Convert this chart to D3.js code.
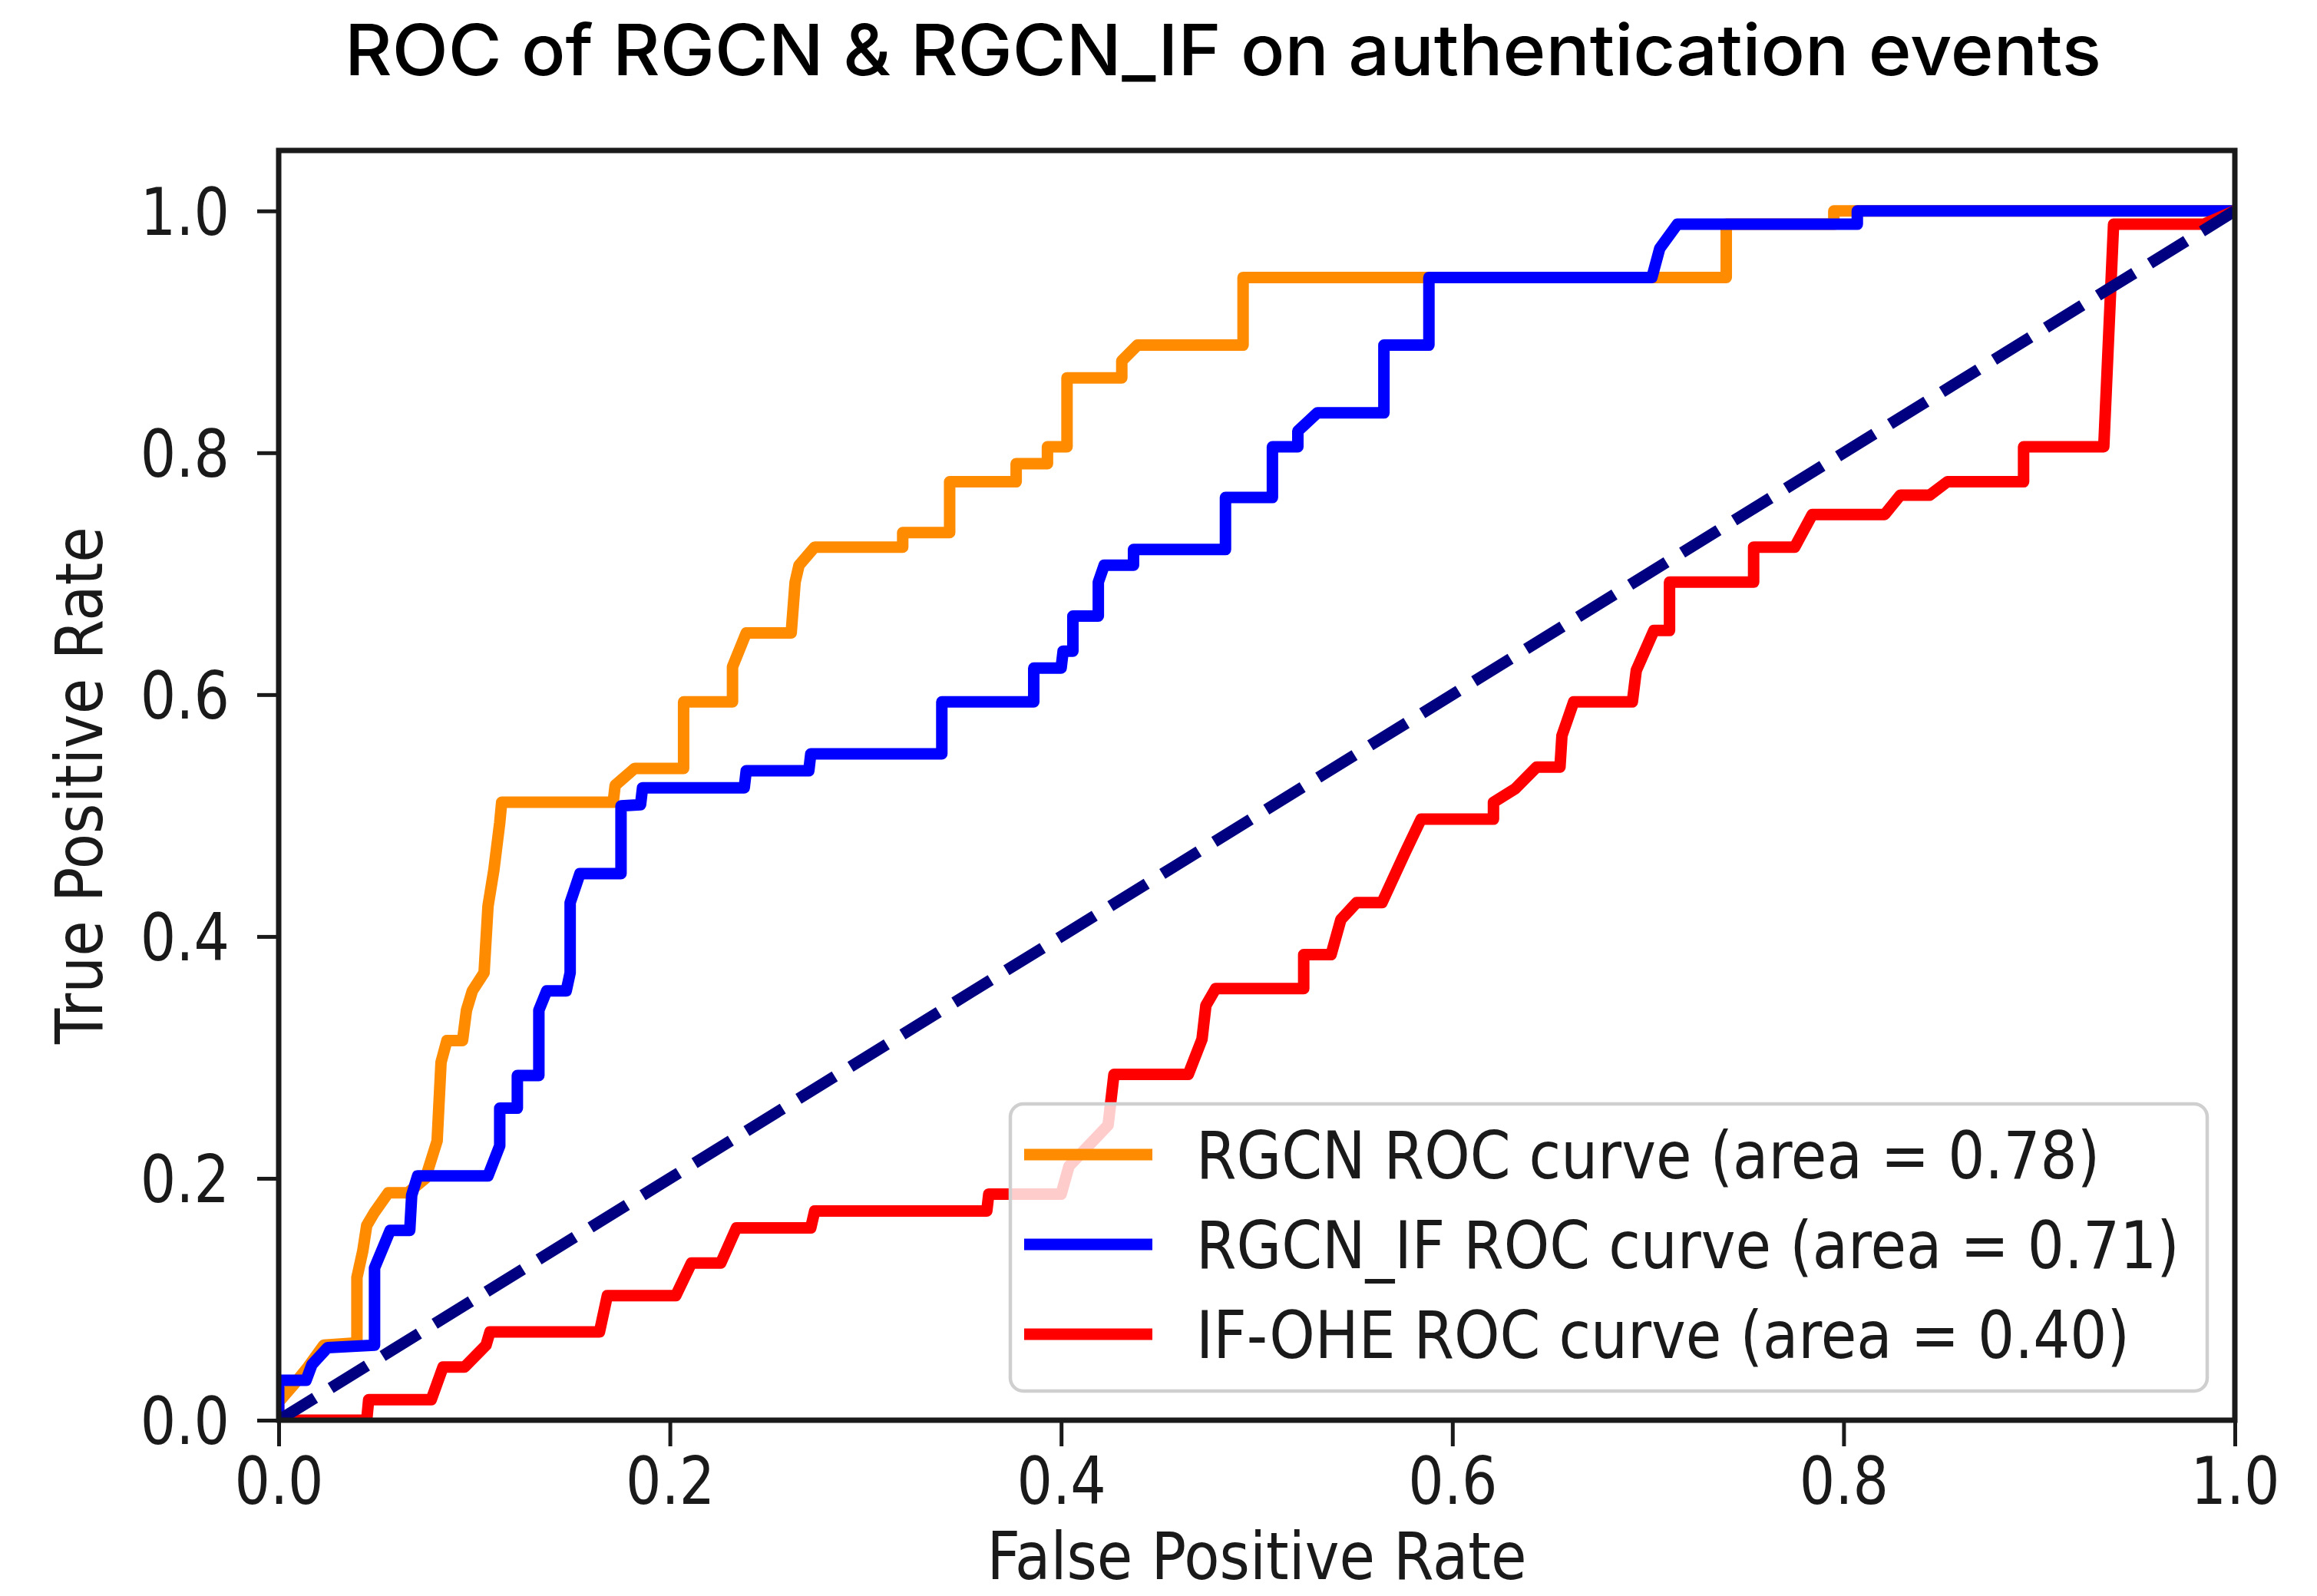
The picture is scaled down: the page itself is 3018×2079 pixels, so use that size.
<!DOCTYPE html>
<html>
<head>
<meta charset="utf-8">
<script src="https://cdn.jsdelivr.net/npm/d3@7"></script>
<style>
  html, body { margin: 0; padding: 0; background: #fff; }
  svg { display: block; }
</style>
</head>
<body>
<div id="chart"></div>
<script>
;(function() {
  'use strict';

  // ROC points (fpr, tpr)
  var rgcnFpr = [0, 0, 0.008, 0.015, 0.023, 0.040, 0.040, 0.043, 0.045, 0.049, 0.056, 0.066, 0.075, 0.081, 0.083,
                 0.086, 0.094, 0.096, 0.099, 0.105, 0.107, 0.110, 0.113, 0.114, 0.171, 0.172, 0.182, 0.207, 0.207,
                 0.232, 0.232, 0.239, 0.262, 0.264, 0.266, 0.274, 0.319, 0.319, 0.343, 0.343, 0.377, 0.377, 0.393,
                 0.393, 0.403, 0.403, 0.431, 0.431, 0.439, 0.493, 0.493, 0.740, 0.740, 0.795, 0.795, 1.0],
      rgcnTpr = [0, 0.015, 0.030, 0.044, 0.062, 0.064, 0.118, 0.140, 0.161, 0.172, 0.188, 0.188, 0.200, 0.231, 0.296,
                 0.314, 0.314, 0.339, 0.355, 0.370, 0.425, 0.455, 0.494, 0.511, 0.511, 0.525, 0.539, 0.539, 0.594,
                 0.594, 0.623, 0.651, 0.651, 0.693, 0.707, 0.722, 0.722, 0.734, 0.734, 0.776, 0.776, 0.791, 0.791,
                 0.805, 0.805, 0.862, 0.862, 0.876, 0.889, 0.889, 0.945, 0.945, 0.989, 0.989, 1.0, 1.0];

  var rgcnIfFpr = [0, 0, 0.014, 0.017, 0.025, 0.049, 0.049, 0.057, 0.067, 0.068, 0.071, 0.107, 0.113, 0.113, 0.122,
                   0.122, 0.133, 0.133, 0.137, 0.147, 0.149, 0.149, 0.154, 0.175, 0.175, 0.185, 0.186, 0.238, 0.239,
                   0.271, 0.272, 0.339, 0.339, 0.386, 0.386, 0.400, 0.401, 0.406, 0.406, 0.419, 0.419, 0.422, 0.437,
                   0.437, 0.484, 0.484, 0.508, 0.508, 0.521, 0.521, 0.531, 0.565, 0.565, 0.588, 0.588, 0.702, 0.706,
                   0.715, 0.807, 0.807, 1.0],
      rgcnIfTpr = [0, 0.033, 0.033, 0.046, 0.060, 0.062, 0.126, 0.157, 0.157, 0.186, 0.202, 0.202, 0.227, 0.258, 0.258,
                   0.285, 0.285, 0.339, 0.355, 0.355, 0.370, 0.428, 0.452, 0.452, 0.508, 0.509, 0.523, 0.523, 0.537,
                   0.537, 0.551, 0.551, 0.594, 0.594, 0.622, 0.622, 0.636, 0.636, 0.665, 0.665, 0.693, 0.707, 0.707,
                   0.720, 0.720, 0.763, 0.763, 0.805, 0.805, 0.818, 0.833, 0.833, 0.889, 0.889, 0.945, 0.945, 0.969,
                   0.989, 0.989, 1.0, 1.0];

  var ifOheFpr = [0, 0.045, 0.046, 0.078, 0.084, 0.095, 0.106, 0.108, 0.164, 0.168, 0.203, 0.211, 0.226, 0.234, 0.272,
                  0.274, 0.362, 0.363, 0.400, 0.404, 0.424, 0.427, 0.465, 0.472, 0.474, 0.479, 0.524, 0.524, 0.538,
                  0.543, 0.551, 0.564, 0.576, 0.584, 0.621, 0.621, 0.632, 0.643, 0.655, 0.656, 0.662, 0.692, 0.694,
                  0.703, 0.711, 0.711, 0.754, 0.754, 0.775, 0.784, 0.821, 0.829, 0.844, 0.853, 0.892, 0.892, 0.933,
                  0.938, 0.984, 1.0],
      ifOheTpr = [0, 0, 0.017, 0.017, 0.044, 0.044, 0.062, 0.073, 0.073, 0.103, 0.103, 0.130, 0.130, 0.159, 0.159,
                  0.173, 0.173, 0.187, 0.187, 0.210, 0.244, 0.286, 0.286, 0.315, 0.343, 0.357, 0.357, 0.385, 0.385,
                  0.414, 0.428, 0.428, 0.470, 0.497, 0.497, 0.511, 0.522, 0.540, 0.540, 0.566, 0.594, 0.594, 0.620,
                  0.653, 0.653, 0.693, 0.693, 0.722, 0.722, 0.749, 0.749, 0.765, 0.765, 0.776, 0.776, 0.805, 0.805,
                  0.989, 0.989, 1.0];

  var chanceFpr = [0, 1],
      chanceTpr = [0, 1];

  var seriesNames = ['RGCN', 'RGCN_IF', 'IF-OHE'],
      seriesAuc = [0.78, 0.71, 0.40],
      seriesColors = ['#ff8c00', '#0000ff', '#ff0000'],
      xTicks = [0, 0.2, 0.4, 0.6, 0.8, 1.0],
      yTicks = [0, 0.2, 0.4, 0.6, 0.8, 1.0],
      titleText = 'ROC of RGCN & RGCN_IF on authentication events';

  var width = 3018,
      height = 2079,
      plot = {left: 363, right: 2911, top: 196, bottom: 1850},
      fontSize = 85,
      squeeze = 0.86,      // tick labels
      labelSqueeze = 0.89, // axis labels + legend
      lineW = 15,
      ink = '#1a1a1a';

  var x = d3.scaleLinear().domain([0, 1]).range([plot.left, plot.right]),
      y = d3.scaleLinear().domain([0, 1.05]).range([plot.bottom, plot.top]);

  var line = d3.line()
    .x(function(d) { return x(d[0]); })
    .y(function(d) { return y(d[1]); });

  var curves = [
    d3.zip(rgcnFpr, rgcnTpr),
    d3.zip(rgcnIfFpr, rgcnIfTpr),
    d3.zip(ifOheFpr, ifOheTpr)
  ];

  var svg = d3.select('#chart')
    .append('svg')
    .attr('width', width)
    .attr('height', height)
    .style('font-family', "'DejaVu Sans', sans-serif");

  svg.append('rect')
    .attr('width', width)
    .attr('height', height)
    .attr('fill', '#fff');

  svg.append('defs')
    .append('clipPath')
    .attr('id', 'plot-clip')
    .append('rect')
    .attr('x', plot.left)
    .attr('y', plot.top)
    .attr('width', plot.right - plot.left)
    .attr('height', plot.bottom - plot.top);

  // Curves
  var lineG = svg.append('g').attr('clip-path', 'url(#plot-clip)');
  lineG.selectAll('path.roc')
    .data(curves)
    .enter()
    .append('path')
    .classed('roc', true)
    .attr('d', line)
    .attr('fill', 'none')
    .attr('stroke', function(d, i) { return seriesColors[i]; })
    .attr('stroke-width', lineW)
    .attr('stroke-linejoin', 'round')
    .attr('stroke-linecap', 'square');

  lineG.append('path')
    .datum(d3.zip(chanceFpr, chanceTpr))
    .attr('d', line)
    .attr('fill', 'none')
    .attr('stroke', '#000080')
    .attr('stroke-width', lineW)
    .attr('stroke-dasharray', '55.6,24');

  // Axes
  var xAxis = d3.axisBottom(x)
    .tickValues(xTicks)
    .tickFormat(d3.format('.1f'))
    .tickSize(34)
    .tickPadding(15);
  var xg = svg.append('g')
    .attr('transform', 'translate(0,' + plot.bottom + ')')
    .call(xAxis);

  var yAxis = d3.axisLeft(y)
    .tickValues(yTicks)
    .tickFormat(d3.format('.1f'))
    .tickSize(28);
  var yg = svg.append('g')
    .attr('transform', 'translate(' + plot.left + ',0)')
    .call(yAxis);

  [xg, yg].forEach(function(g) {
    g.attr('font-size', fontSize).attr('font-family', null);
    g.select('.domain').remove();
    g.selectAll('.tick line').attr('stroke', ink).attr('stroke-width', 5);
    g.selectAll('.tick text')
      .attr('fill', ink)
      .attr('transform', 'scale(' + squeeze + ',1)');
  });
  yg.selectAll('.tick text')
    .attr('x', -64 / squeeze)
    .attr('dy', '0.36em');

  // Frame
  svg.append('rect')
    .attr('x', plot.left)
    .attr('y', plot.top)
    .attr('width', plot.right - plot.left)
    .attr('height', plot.bottom - plot.top)
    .attr('fill', 'none')
    .attr('stroke', ink)
    .attr('stroke-width', 7);

  // Axis labels
  svg.append('text')
    .attr('transform', 'translate(' + ((plot.left + plot.right) / 2) + ',2057) scale(' + labelSqueeze + ',1)')
    .attr('text-anchor', 'middle')
    .attr('font-size', fontSize)
    .attr('fill', ink)
    .text('False Positive Rate');

  svg.append('text')
    .attr('transform', 'translate(133,' + ((plot.top + plot.bottom) / 2) + ') rotate(-90) scale(' + labelSqueeze + ',1)')
    .attr('text-anchor', 'middle')
    .attr('font-size', fontSize)
    .attr('fill', ink)
    .text('True Positive Rate');

  // Legend
  var legend = svg.append('g')
    .attr('transform', 'translate(1316,1438)');
  legend.append('rect')
    .attr('width', 1559)
    .attr('height', 374)
    .attr('rx', 17)
    .attr('fill', '#fff')
    .attr('fill-opacity', 0.8)
    .attr('stroke', '#cfcfcf')
    .attr('stroke-width', 4.5);

  var rows = legend.selectAll('g.row')
    .data(seriesNames)
    .enter()
    .append('g')
    .classed('row', true)
    .attr('transform', function(d, i) { return 'translate(0,' + (66 + i * 117) + ')'; });
  rows.append('line')
    .attr('x1', 18)
    .attr('x2', 185)
    .attr('stroke', function(d, i) { return seriesColors[i]; })
    .attr('stroke-width', lineW);
  rows.append('text')
    .attr('transform', 'translate(242,31) scale(' + labelSqueeze + ',1)')
    .attr('font-size', fontSize)
    .attr('fill', ink)
    .text(function(d, i) { return d + ' ROC curve (area = ' + seriesAuc[i].toFixed(2) + ')'; });

  // Title
  svg.append('text')
    .attr('x', 449)
    .attr('y', 98)
    .attr('font-family', "Inter, 'Noto Sans', sans-serif")
    .attr('font-weight', 500)
    .attr('font-size', 92)
    .attr('fill', '#000')
    .attr('textLength', 2288)
    .attr('lengthAdjust', 'spacingAndGlyphs')
    .text(titleText);
})();
</script>
</body>
</html>
